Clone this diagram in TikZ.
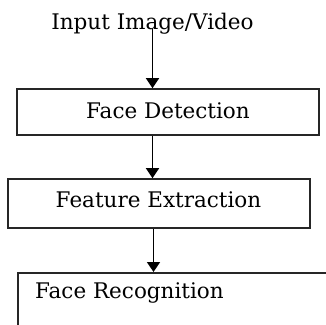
\documentclass[tikz,border=0pt]{standalone}
\usepackage{fontspec}
\setmainfont{DejaVu Serif}
\usetikzlibrary{arrows.meta}
\begin{document}
\begin{tikzpicture}[x=1pt,y=-1pt,
  stagebox/.style={draw=black!85,line width=1.6pt,rectangle,inner sep=0pt},
  label/.style={inner sep=0pt,font=\fontsize{21.5}{24}\selectfont},
  flow/.style={line width=1.6pt,-{Triangle[width=13pt,length=10pt]}}]
  \useasboundingbox (0,0) rectangle (326,324);
  \clip (0,0) rectangle (326,324);

  % stage boxes (the last one runs past the page edge)
  \node[stagebox,minimum width=302pt,minimum height=46pt] (fd) at (168,112) {};
  \node[stagebox,minimum width=302pt,minimum height=49pt] (fe) at (159,203.5) {};
  \node[stagebox,minimum width=330pt,minimum height=70pt,anchor=north west] (fr) at (17,272) {};

  % texts
  \node[label,anchor=base] (in) at (152.5,29) {Input Image/Video};
  \node[label,anchor=base] (fdt) at (168,118) {Face Detection};
  \node[label,anchor=base] (fet) at (158.5,207) {Feature Extraction};
  \node[label,anchor=base west] (frt) at (35,298) {Face Recognition};

  % connectors
  \draw[flow] (in.base) -- (in.base |- fd.north);
  \draw[flow] (in.base |- fd.south) -- (in.base |- fe.north);
  \draw[flow] ([xshift=1pt]in.base |- fe.south) -- ([xshift=1pt]in.base |- fr.north);
\end{tikzpicture}
\end{document}
